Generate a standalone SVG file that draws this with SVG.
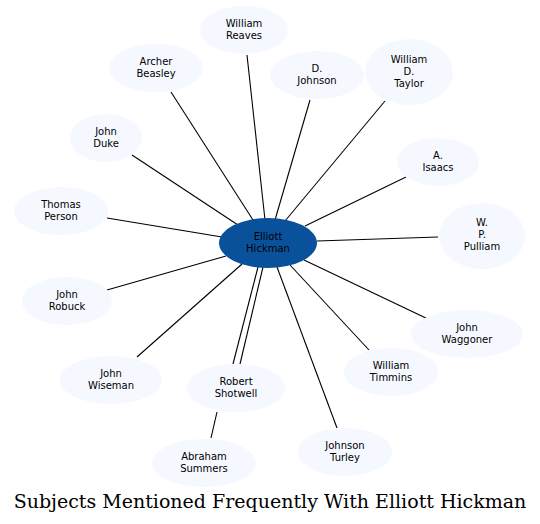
<svg xmlns="http://www.w3.org/2000/svg" width="540" height="524" viewBox="0 0 540 524">
<style>
.n ellipse{fill:#f5f9ff;stroke:none}
.n text{font-family:"DejaVu Sans",sans-serif;font-size:10px;fill:#000;text-anchor:middle}
#c ellipse{fill:#0a519c}
.e line{stroke:#000;stroke-width:1.1}
.t{font-family:"DejaVu Serif",serif;font-size:19px;text-anchor:middle;fill:#000}
</style>
<rect width="540" height="524" fill="#fff"/>
<g class="e" id="edges">
<line x1="265" y1="220" x2="247" y2="55"/>
<line x1="253" y1="220" x2="171" y2="92"/>
<line x1="275" y1="220" x2="310" y2="100"/>
<line x1="285" y1="221" x2="385" y2="101"/>
<line x1="238" y1="225" x2="132" y2="155"/>
<line x1="305" y1="226" x2="406" y2="177"/>
<line x1="222" y1="237" x2="107" y2="218"/>
<line x1="317" y1="241" x2="438" y2="237"/>
<line x1="226" y1="256" x2="107" y2="290"/>
<line x1="304" y1="260" x2="430" y2="320"/>
<line x1="290" y1="265" x2="369" y2="350"/>
<line x1="242" y1="264" x2="137" y2="357"/>
<line x1="258" y1="267" x2="233" y2="364"/>
<line x1="263" y1="267" x2="240" y2="364"/>
<line x1="217" y1="412" x2="211" y2="438"/>
<line x1="277" y1="267" x2="337" y2="428"/>
</g>
<g class="n" id="c"><ellipse cx="268" cy="243" rx="49" ry="25"/><text x="268" y="240">Elliott</text><text x="268" y="252">Hickman</text></g>
<g class="n" id="reaves"><ellipse cx="244" cy="30" rx="44" ry="24"/><text x="244" y="27">William</text><text x="244" y="39">Reaves</text></g>
<g class="n" id="beasley"><ellipse cx="156" cy="68" rx="47" ry="24"/><text x="156" y="65">Archer</text><text x="156" y="77">Beasley</text></g>
<g class="n" id="djohnson"><ellipse cx="317" cy="75" rx="47" ry="24"/><text x="317" y="72">D.</text><text x="317" y="84">Johnson</text></g>
<g class="n" id="taylor"><ellipse cx="409" cy="72" rx="44" ry="33"/><text x="409" y="63">William</text><text x="409" y="75">D.</text><text x="409" y="87">Taylor</text></g>
<g class="n" id="duke"><ellipse cx="106" cy="138" rx="36" ry="24"/><text x="106" y="135">John</text><text x="106" y="147">Duke</text></g>
<g class="n" id="isaacs"><ellipse cx="438" cy="162" rx="41" ry="24"/><text x="438" y="159">A.</text><text x="438" y="171">Isaacs</text></g>
<g class="n" id="person"><ellipse cx="61" cy="211" rx="47" ry="24"/><text x="61" y="208">Thomas</text><text x="61" y="220">Person</text></g>
<g class="n" id="pulliam"><ellipse cx="482" cy="236" rx="43" ry="33"/><text x="482" y="226">W.</text><text x="482" y="238">P.</text><text x="482" y="250">Pulliam</text></g>
<g class="n" id="robuck"><ellipse cx="67" cy="301" rx="45" ry="24"/><text x="67" y="298">John</text><text x="67" y="310">Robuck</text></g>
<g class="n" id="waggoner"><ellipse cx="467" cy="334" rx="56" ry="24"/><text x="467" y="331">John</text><text x="467" y="343">Waggoner</text></g>
<g class="n" id="timmins"><ellipse cx="391" cy="372" rx="47" ry="24"/><text x="391" y="369">William</text><text x="391" y="381">Timmins</text></g>
<g class="n" id="wiseman"><ellipse cx="111" cy="380" rx="51" ry="24"/><text x="111" y="377">John</text><text x="111" y="389">Wiseman</text></g>
<g class="n" id="shotwell"><ellipse cx="236" cy="388" rx="49" ry="24"/><text x="236" y="385">Robert</text><text x="236" y="397">Shotwell</text></g>
<g class="n" id="summers"><ellipse cx="204" cy="463" rx="52" ry="24"/><text x="204" y="460">Abraham</text><text x="204" y="472">Summers</text></g>
<g class="n" id="turley"><ellipse cx="345" cy="452" rx="47" ry="24"/><text x="345" y="449">Johnson</text><text x="345" y="461">Turley</text></g>
<text class="t" x="270" y="508">Subjects Mentioned Frequently With Elliott Hickman</text>
</svg>
